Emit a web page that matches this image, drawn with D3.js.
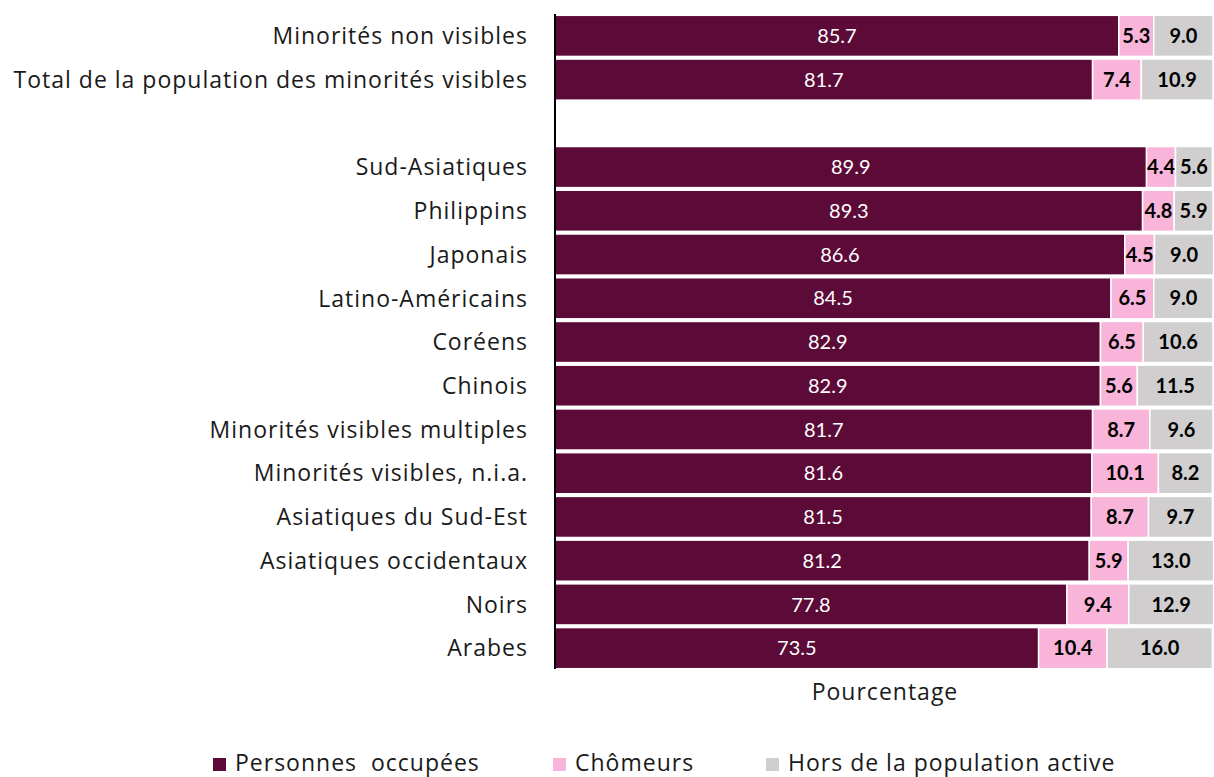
<!DOCTYPE html>
<html>
<head>
<meta charset="utf-8">
<script src="https://cdn.jsdelivr.net/npm/d3@7"></script>
<style>
  body { margin: 0; background: #fff; }
  text { font-family: "Open Sans", sans-serif; }
  .lbl { font-size: 23px; letter-spacing: 1px; fill: #1a1a1a; }
  .val { font-family: Lato, "Open Sans", sans-serif; font-size: 20px; }
</style>
</head>
<body>
<svg width="1214" height="777"></svg>
<script>
// categories, top to bottom ("" is the empty spacer row)
var categories = [
    "Minorités non visibles",
    "Total de la population des minorités visibles",
    "",
    "Sud-Asiatiques",
    "Philippins",
    "Japonais",
    "Latino-Américains",
    "Coréens",
    "Chinois",
    "Minorités visibles multiples",
    "Minorités visibles, n.i.a.",
    "Asiatiques du Sud-Est",
    "Asiatiques occidentaux",
    "Noirs",
    "Arabes"
];
var occupied   = [85.7, 81.7, null, 89.9, 89.3, 86.6, 84.5, 82.9, 82.9, 81.7, 81.6, 81.5, 81.2, 77.8, 73.5];
var unemployed = [5.3, 7.4, null, 4.4, 4.8, 4.5, 6.5, 6.5, 5.6, 8.7, 10.1, 8.7, 5.9, 9.4, 10.4];
var inactive   = [9.0, 10.9, null, 5.6, 5.9, 9.0, 9.0, 10.6, 11.5, 9.6, 8.2, 9.7, 13.0, 12.9, 16.0];
var seriesNames = ["Personnes  occupées", "Chômeurs", "Hors de la population active"];
var colors = ["#5c0a38", "#f8b4d9", "#d0cece"];
var labelColors = ["#fff", "#000", "#000"];

var svg = d3.select("svg");
var x0 = 555, x1 = 1213;

var x = d3.scaleLinear().domain([0, 100]).range([x0, x1]);
var y = d3.scaleBand()
    .domain(d3.range(categories.length))
    .range([14, 670])
    .paddingInner(0.06)
    .paddingOuter(0.03);

// stacked layers, one per series
var rows = categories.map(function(c, i) {
    return { i: i, occ: occupied[i] || 0, une: unemployed[i] || 0, ina: inactive[i] || 0 };
});
var layers = d3.stack().keys(["occ", "une", "ina"])(rows);

var g = svg.append("g");
layers.forEach(function(layer, k) {
    var segs = layer.filter(function(d) { return occupied[d.data.i] !== null; });
    var lg = g.append("g");
    lg.selectAll("rect")
        .data(segs)
        .enter().append("rect")
        .attr("x", function(d) { return x(d[0]); })
        .attr("y", function(d) { return y(d.data.i); })
        .attr("width", function(d) { return x(d[1]) - x(d[0]); })
        .attr("height", y.bandwidth())
        .attr("fill", colors[k])
        .attr("stroke", "#fff")
        .attr("stroke-width", 1.5);

    lg.selectAll("text")
        .data(segs)
        .enter().append("text")
        .attr("class", "val")
        .attr("x", function(d) { return (x(d[0]) + x(d[1])) / 2; })
        .attr("y", function(d) { return y(d.data.i) + y.bandwidth() / 2; })
        .attr("dy", "0.36em")
        .attr("text-anchor", "middle")
        .attr("fill", labelColors[k])
        .style("font-weight", k === 0 ? "normal" : "bold")
        .text(function(d) { return (d[1] - d[0]).toFixed(1); });
});

// category labels
svg.append("g").selectAll("text")
    .data(categories)
    .enter().append("text")
    .attr("class", "lbl")
    .attr("x", 528)
    .attr("y", function(d, i) { return y(i) + y.bandwidth() / 2; })
    .attr("dy", "0.36em")
    .attr("text-anchor", "end")
    .text(function(d) { return d; });

// vertical axis line
svg.append("line")
    .attr("x1", x0).attr("x2", x0)
    .attr("y1", 14).attr("y2", 669)
    .attr("stroke", "#000")
    .attr("stroke-width", 2);

// axis title
svg.append("text")
    .attr("class", "lbl")
    .attr("x", 885)
    .attr("y", 700)
    .attr("text-anchor", "middle")
    .text("Pourcentage");

// legend
var legendX = [213, 553, 766];
var legend = svg.append("g").selectAll("g")
    .data(seriesNames)
    .enter().append("g")
    .attr("transform", function(d, i) { return "translate(" + legendX[i] + ",758)"; });
legend.append("rect")
    .attr("width", 13).attr("height", 13)
    .attr("fill", function(d, i) { return colors[i]; });
legend.append("text")
    .attr("class", "lbl")
    .attr("x", 22)
    .attr("y", 13)
    .style("white-space", "pre")
    .text(function(d) { return d; });
</script>
</body>
</html>
